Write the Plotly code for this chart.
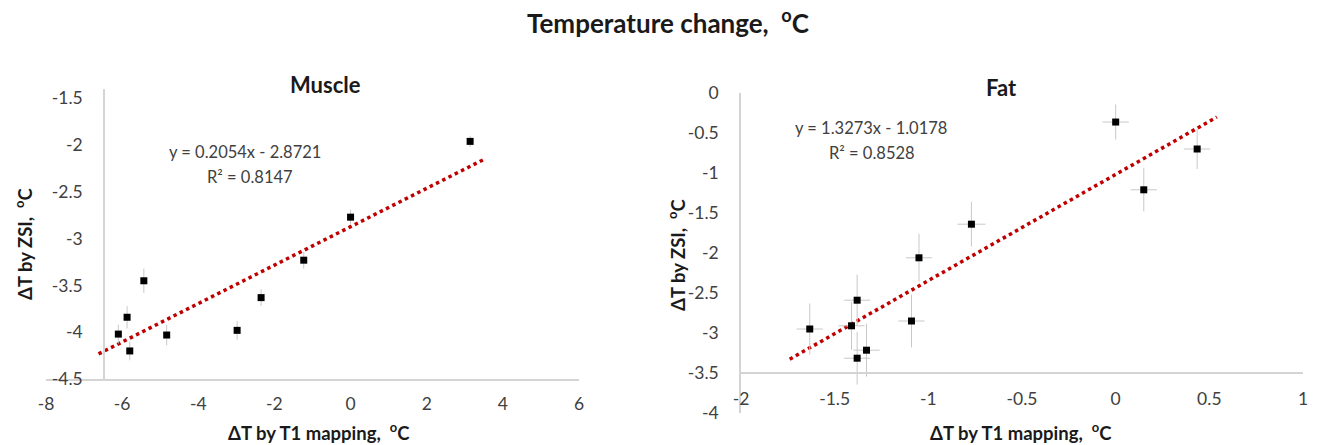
import plotly.graph_objects as go

W, H = 1328, 445

# ---------------- data ----------------
muscle_x = [-6.10, -5.87, -5.80, -5.43, -4.83, -2.98, -2.35, -1.23, 0.00, 3.14]
muscle_y = [-4.02, -3.84, -4.20, -3.45, -4.03, -3.98, -3.63, -3.23, -2.77, -1.96]
muscle_ey = [0.10, 0.12, 0.10, 0.13, 0.11, 0.10, 0.09, 0.09, 0.08, 0.06]

fat_x = [-1.633, -1.41, -1.38, -1.38, -1.33, -1.09, -1.05, -0.77, 0.00, 0.15, 0.435]
fat_y = [-2.95, -2.91, -2.59, -3.315, -3.215, -2.85, -2.06, -1.64, -0.363, -1.21, -0.70]
fat_ex = [0.07, 0.07, 0.07, 0.07, 0.07, 0.07, 0.07, 0.075, 0.07, 0.07, 0.07]
fat_ey = [0.32, 0.30, 0.32, 0.33, 0.33, 0.33, 0.30, 0.28, 0.22, 0.27, 0.25]

# trend lines (from the equations shown on the chart)
muscle_slope, muscle_icpt = 0.2054, -2.8721
muscle_trend_x = [-6.62, 3.53]
fat_slope, fat_icpt = 1.3273, -1.0178
fat_trend_x = [-1.74, 0.54]

muscle_xticks = [-8, -6, -4, -2, 0, 2, 4, 6]
muscle_xtext = ["-8", "-6", "-4", "-2", "0", "2", "4", "6"]
muscle_yticks = [-4.5, -4, -3.5, -3, -2.5, -2, -1.5]
muscle_ytext = ["-4.5", "-4", "-3.5", "-3", "-2.5", "-2", "-1.5"]
fat_xticks = [-2, -1.5, -1, -0.5, 0, 0.5, 1]
fat_xtext = ["-2", "-1.5", "-1", "-0.5", "0", "0.5", "1"]
fat_yticks = [-4, -3.5, -3, -2.5, -2, -1.5, -1, -0.5, 0]
fat_ytext = ["-4", "-3.5", "-3", "-2.5", "-2", "-1.5", "-1", "-0.5", "0"]

main_title = "Temperature change,  <sup>o</sup>C"
muscle_title = "Muscle"
fat_title = "Fat"
x_title = "ΔT by T1 mapping,  <sup>o</sup>C"
y_title = "ΔT by ZSI,  <sup>o</sup>C"
muscle_eq = ["y = 0.2054x - 2.8721", "R² = 0.8147"]
fat_eq = ["y = 1.3273x - 1.0178", "R² = 0.8528"]

# ---------------- style ----------------
FONT = "Lato, 'Open Sans', sans-serif"
AXIS_COL = "#d4d4d4"
TICK_COL = "#404040"
ERR_COL = "#c8c8c8"
TREND_COL = "#c00000"


def px(x):
    return x / W


def py(y):
    return 1 - y / H


fig = go.Figure()

# Muscle
fig.add_trace(go.Scatter(
    x=[x for x in muscle_trend_x],
    y=[muscle_slope * x + muscle_icpt for x in muscle_trend_x],
    mode="lines", line=dict(color=TREND_COL, width=3.5, dash="dot"),
    xaxis="x", yaxis="y", hoverinfo="skip", showlegend=False))
fig.add_trace(go.Scatter(
    x=muscle_x, y=muscle_y, mode="markers",
    marker=dict(symbol="square", size=7, color="black"),
    error_y=dict(type="data", array=muscle_ey, color=ERR_COL, thickness=1, width=0),
    xaxis="x", yaxis="y", showlegend=False))

# Fat
fig.add_trace(go.Scatter(
    x=[x for x in fat_trend_x],
    y=[fat_slope * x + fat_icpt for x in fat_trend_x],
    mode="lines", line=dict(color=TREND_COL, width=3.5, dash="dot"),
    xaxis="x2", yaxis="y2", hoverinfo="skip", showlegend=False))
fig.add_trace(go.Scatter(
    x=fat_x, y=fat_y, mode="markers",
    marker=dict(symbol="square", size=7, color="black"),
    error_x=dict(type="data", array=fat_ex, color=ERR_COL, thickness=1, width=0),
    error_y=dict(type="data", array=fat_ey, color=ERR_COL, thickness=1, width=0),
    xaxis="x2", yaxis="y2", showlegend=False))

tickfont = dict(family=FONT, size=17.5, color=TICK_COL)
common = dict(showgrid=False, zeroline=False, showline=True, linecolor=AXIS_COL,
              linewidth=1.5, ticks="", tickfont=tickfont, automargin=False)

fig.update_layout(
    template="none",
    width=W, height=H,
    margin=dict(l=0, r=0, t=0, b=0, pad=0, autoexpand=False),
    paper_bgcolor="white", plot_bgcolor="white",
    font=dict(family=FONT),
    showlegend=False,
    xaxis=dict(domain=[px(46), px(579)], range=[-8, 6], anchor="y",
               tickvals=muscle_xticks, ticktext=muscle_xtext,
               ticklabelstandoff=8, **common),
    yaxis=dict(domain=[py(379), py(89)], range=[-4.5, -1.4], anchor="free",
               position=px(104),
               tickvals=muscle_yticks, ticktext=muscle_ytext,
               ticklabelstandoff=17, **common),
    xaxis2=dict(domain=[px(741), px(1303)], range=[-2, 1], anchor="free",
                position=py(373),
                tickvals=fat_xticks, ticktext=fat_xtext,
                ticklabelstandoff=10, **common),
    yaxis2=dict(domain=[py(413), py(93)], range=[-4, 0], anchor="x2",
                tickvals=fat_yticks, ticktext=fat_ytext,
                ticklabelstandoff=17, **common),
)

ann = [
    dict(text=main_title, x=px(668), y=py(22), size=26, bold=True, angle=0),
    dict(text=muscle_title, x=px(325), y=py(84), size=22, bold=True, angle=0),
    dict(text=fat_title, x=px(1002), y=py(88), size=22, bold=True, angle=0),
    dict(text=x_title, x=px(319), y=py(431), size=18.5, bold=True, angle=0),
    dict(text=x_title, x=px(1021), y=py(431), size=18.5, bold=True, angle=0),
    dict(text=y_title, x=px(23), y=py(244), size=18.5, bold=True, angle=-90),
    dict(text=y_title, x=px(677), y=py(255), size=18.5, bold=True, angle=-90),
]
for a in ann:
    t = f"<b>{a['text']}</b>" if a["bold"] else a["text"]
    fig.add_annotation(text=t, x=a["x"], y=a["y"], xref="paper", yref="paper",
                       showarrow=False, textangle=a["angle"],
                       xanchor="center", yanchor="middle",
                       font=dict(family=FONT, size=a["size"], color="#1a1a1a"))

eq_pos = [(muscle_eq[0], 245, 152), (muscle_eq[1], 250, 177),
          (fat_eq[0], 871, 128), (fat_eq[1], 872, 153)]
for txt, ex, ey in eq_pos:
    fig.add_annotation(text=txt, x=px(ex), y=py(ey), xref="paper", yref="paper",
                       showarrow=False, xanchor="center", yanchor="middle",
                       font=dict(family=FONT, size=16.5, color=TICK_COL))

fig.write_html("out.html",
               config={"displayModeBar": False},
               post_script="document.body.style.margin='0';"
                           "document.body.style.overflow='hidden';")
